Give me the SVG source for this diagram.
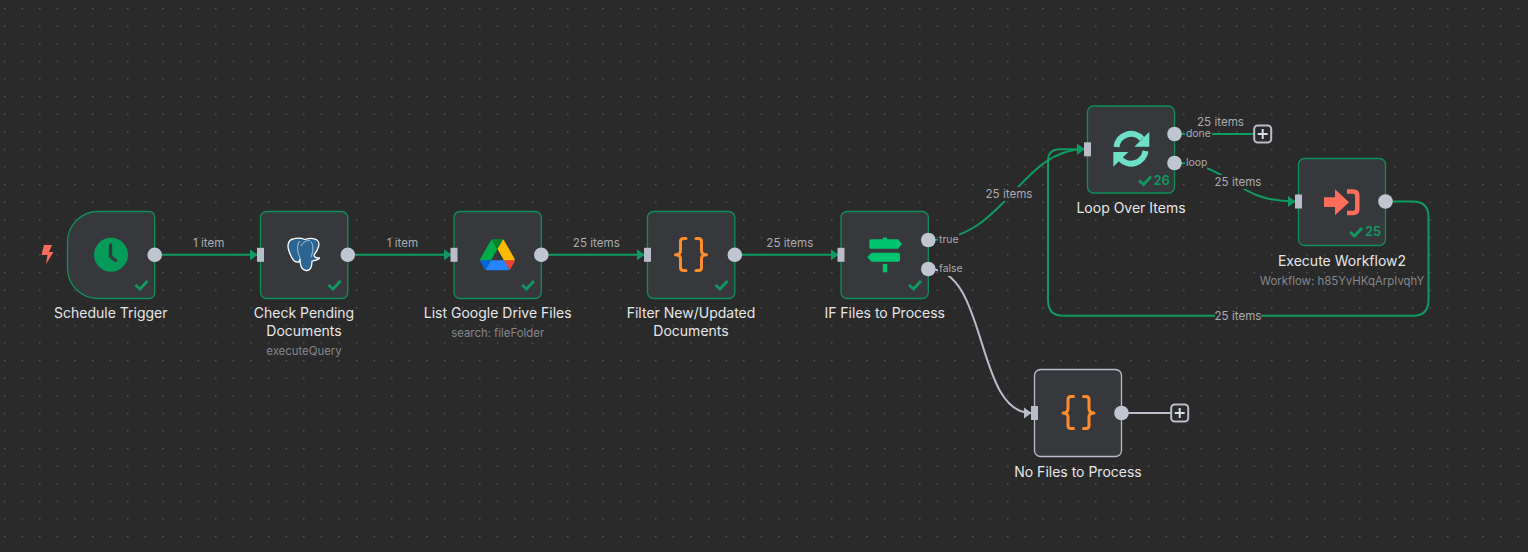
<svg xmlns="http://www.w3.org/2000/svg" width="1528" height="552" viewBox="0 0 1528 552">
<style>
.card{fill:#37383b;stroke:#0e8f5a;stroke-width:1.3}
.card.grey{stroke:#b9bdc9}
.t{font-family:Inter,"Liberation Sans",sans-serif;font-size:14px;fill:#e6e6e8;text-anchor:middle}
.s{font-family:Inter,"Liberation Sans",sans-serif;font-size:11.4px;fill:#85878e;text-anchor:middle}
.e{font-family:Inter,"Liberation Sans",sans-serif;font-size:11.6px;fill:#a9abb2;text-anchor:middle}
.b{font-family:Inter,"Liberation Sans",sans-serif;font-size:10.4px;fill:#a9abb2}
.n{font-family:Inter,"Liberation Sans",sans-serif;font-size:13px;font-weight:600;fill:#0f9a61}
.c{fill:none;stroke:#0f9a61;stroke-width:2}
.w{fill:none;stroke:#b9bdc9;stroke-width:2}
.k{fill:none;stroke:#0f9a61;stroke-width:2.8}
.o{fill:#c0c5d2}
.lb{fill:#2a2a2a}
.br{fill:none;stroke:#ff8c2b;stroke-width:3;stroke-linecap:round;stroke-linejoin:round}
</style>
<defs>
<pattern id="grid" x="4" y="8" width="17.6" height="17.6" patternUnits="userSpaceOnUse"><rect x="0" y="0" width="1.2" height="1.2" fill="#646464"/></pattern>
<marker id="ag" markerWidth="8" markerHeight="12" refX="7" refY="6" orient="auto" markerUnits="userSpaceOnUse"><path d="M0,0.5L7.5,6L0,11.5Z" fill="#0f9a61"/></marker>
<marker id="aw" markerWidth="8" markerHeight="12" refX="7" refY="6" orient="auto" markerUnits="userSpaceOnUse"><path d="M0,0.5L7.5,6L0,11.5Z" fill="#b9bdc9"/></marker>
<g id="plus"><rect x="-8.5" y="-8.5" width="17" height="17" rx="3.5" fill="#2a2a2a" stroke="#b9bdc9" stroke-width="2"/><path d="M-5,0H5M0,-5V5" stroke="#d8dbe3" stroke-width="2"/></g>
</defs>
<rect width="1528" height="552" fill="#2a2a2a"/>
<rect width="1528" height="552" fill="url(#grid)"/>
<g id="connectors">
<path class="c" marker-end="url(#ag)" d="M155,254.8H257"/>
<path class="c" marker-end="url(#ag)" d="M348,254.8H451"/>
<path class="c" marker-end="url(#ag)" d="M541,254.8H644"/>
<path class="c" marker-end="url(#ag)" d="M735,254.8H838"/>
<path class="c" marker-end="url(#ag)" d="M929,240C1005,240 1020,149.3 1084,149.3"/>
<path class="w" marker-end="url(#aw)" d="M929,269C988,269 975,413 1031,413"/>
<path class="c" d="M1175,134H1254"/>
<path class="c" marker-end="url(#ag)" d="M1175,163C1232,163 1232,201.5 1295,201.5"/>
<path class="c" marker-end="url(#ag)" d="M1386,201.5H1413Q1428.5,201.5 1428.5,217V300Q1428.5,315.8 1413,315.8H1063Q1048,315.8 1048,300V161Q1048,149.3 1060,149.3H1084"/>
<path class="w" d="M1122,413H1171"/>
<rect class="lb" x="938" y="233" width="21" height="14"/>
<rect class="lb" x="938" y="262" width="25" height="14"/>
<rect class="lb" x="1185" y="127" width="27" height="13"/>
<rect class="lb" x="1185" y="156" width="22" height="14"/>
<rect class="lb" x="986" y="187" width="46" height="14"/>
<rect class="lb" x="1215" y="175" width="46" height="14"/>
<rect class="lb" x="1215" y="309" width="46" height="14"/>
<text class="e" x="208.7" y="247">1 item</text>
<text class="e" x="402.5" y="247">1 item</text>
<text class="e" x="596.3" y="247">25 items</text>
<text class="e" x="789.8" y="247">25 items</text>
<text class="e" x="1009" y="198">25 items</text>
<text class="e" x="1220.5" y="126">25 items</text>
<text class="e" x="1238" y="186">25 items</text>
<text class="e" x="1238" y="320">25 items</text>
<text class="b" x="939" y="243">true</text>
<text class="b" x="939" y="272">false</text>
<text class="b" x="1186" y="137">done</text>
<text class="b" x="1186" y="166">loop</text>
<use href="#plus" x="1262.7" y="134"/>
<use href="#plus" x="1179.7" y="413"/>
</g>
<g id="schedule-trigger">
<path class="card" d="M98,211.5H148.7Q154.7,211.5 154.7,217.500V292.500Q154.7,298.5 148.7,298.5H98A30.5,30.5 0 0 1 67.5,268V242A30.5,30.5 0 0 1 98,211.5Z"/>
<circle cx="111" cy="254.8" r="17" fill="#059c5a"/>
<path d="M110.5,245V256.500L115.500,260.500" fill="none" stroke="#37383b" stroke-width="3.400" stroke-linecap="round" stroke-linejoin="round"/>
<path d="M44,245H52L49,252H53.500L46,264L47.500,255H41.500Z" fill="#ff6d5a"/>
<polyline class="k" points="135.500,285 140,289 147.500,281"/>
<circle class="o" cx="154.700" cy="254.800" r="7.300"/>
<text class="t" x="110.800" y="318">Schedule Trigger</text>
</g>
<g id="check-pending-documents">
<rect class="card" x="260.500" y="211.500" width="87.300" height="87" rx="6"/>
<path d="M293,239C288,240 287,246 289,251C291,257 294,263 298,262C300,262 300,260 300,259C300,264 301,270 306,270.500C311,271 312,266 312,261C315,260 319,260 319.500,258C316,258 314,257 314,255C318,250 321,243 317,240C313,237.500 308,238.500 305,239.500C301,238 296,238 293,239Z" fill="#2c6592" stroke="#fff" stroke-width="1.300" stroke-linejoin="round"/>
<path d="M299.500,241C296,247 298,253 300,258M301,246C303,242 306,240.500 310,240.500M311,241.500C314,246 313,252 311,257" fill="none" stroke="#dfe8ef" stroke-width="0.700"/>
<polyline class="k" points="328.500,285 333,289 340.500,281"/>
<rect x="257" y="247.800" width="7" height="14" fill="#b9bdc9"/>
<circle class="o" cx="347.800" cy="254.800" r="7.300"/>
<text class="t" x="304" y="318">Check Pending</text>
<text class="t" x="304" y="336">Documents</text>
<text class="s" x="304" y="355">executeQuery</text>
</g>
<g id="list-google-drive-files">
<rect class="card" x="454" y="211.500" width="87.300" height="87" rx="6"/>
<g transform="translate(480,239) scale(.4)">
<path d="m6.6 66.85 3.85 6.65c.8 1.4 1.95 2.5 3.3 3.3l13.75-23.8h-27.5c0 1.55.4 3.1 1.2 4.5z" fill="#0066da"/>
<path d="m43.65 25-13.75-23.8c-1.35.8-2.5 1.9-3.3 3.3l-25.4 44a9.06 9.06 0 0 0 -1.2 4.5h27.5z" fill="#00ac47"/>
<path d="m73.55 76.8c1.35-.8 2.5-1.9 3.3-3.3l1.6-2.75 7.65-13.25c.8-1.4 1.2-2.95 1.2-4.5h-27.502l5.852 11.5z" fill="#ea4335"/>
<path d="m43.65 25 13.75-23.8c-1.35-.8-2.9-1.2-4.5-1.2h-18.5c-1.6 0-3.15.45-4.5 1.2z" fill="#00832d"/>
<path d="m59.8 53h-32.3l-13.75 23.8c1.35.8 2.9 1.2 4.5 1.2h50.8c1.6 0 3.15-.45 4.5-1.2z" fill="#2684fc"/>
<path d="m73.4 26.5-12.7-22c-.8-1.4-1.95-2.5-3.3-3.3l-13.75 23.8 16.15 28h27.45c0-1.55-.4-3.1-1.2-4.5z" fill="#ffba00"/>
</g>
<polyline class="k" points="522,285 526.500,289 534,281"/>
<rect x="450.500" y="247.800" width="7" height="14" fill="#b9bdc9"/>
<circle class="o" cx="541.300" cy="254.800" r="7.300"/>
<text class="t" x="497.700" y="318">List Google Drive Files</text>
<text class="s" x="497.700" y="337">search: fileFolder</text>
</g>
<g id="filter-new-updated-documents">
<rect class="card" x="647.500" y="211.500" width="87.300" height="87" rx="6"/>
<path class="br" d="M686,238.500H683.500Q680.500,238.500 680.500,241.500V250.500Q680.500,254.800 675.500,254.800Q680.500,254.800 680.500,259V267.500Q680.500,270.500 683.500,270.500H686"/>
<path class="br" d="M696,238.500H698.500Q701.500,238.500 701.500,241.500V250.500Q701.500,254.800 706.500,254.800Q701.500,254.800 701.500,259V267.500Q701.500,270.500 698.500,270.500H696"/>
<polyline class="k" points="715.500,285 720,289 727.500,281"/>
<rect x="644" y="247.800" width="7" height="14" fill="#b9bdc9"/>
<circle class="o" cx="734.800" cy="254.800" r="7.300"/>
<text class="t" x="691" y="318">Filter New/Updated</text>
<text class="t" x="691" y="336">Documents</text>
</g>
<g id="if-files-to-process">
<rect class="card" x="841" y="211.500" width="87.300" height="87" rx="6"/>
<path d="M883,237.500H887V239.300H898L902,244L898,248.700H871Q869.300,248.700 869.300,247V241Q869.300,239.300 871,239.300H883Z" fill="#00c56e"/>
<path d="M871.500,252.700H898Q900,252.700 900,254.500V260Q900,261.700 898,261.700H871.500L867.300,257.200Z" fill="#00c56e"/>
<rect x="882.800" y="264" width="4.400" height="8.300" fill="#00c56e"/>
<polyline class="k" points="909,285 913.500,289 921,281"/>
<rect x="837.500" y="247.800" width="7" height="14" fill="#b9bdc9"/>
<circle class="o" cx="928.300" cy="240" r="7.300"/>
<circle class="o" cx="928.300" cy="269" r="7.300"/>
<text class="t" x="884.700" y="318">IF Files to Process</text>
</g>
<g id="loop-over-items">
<rect class="card" x="1087.500" y="106" width="87" height="87" rx="6"/>
<path d="M1116.500,147A14.500,14.500 0 0 1 1142,139" fill="none" stroke="#6ee0c7" stroke-width="6"/>
<path d="M1145.500,151A14.500,14.500 0 0 1 1120.500,159" fill="none" stroke="#6ee0c7" stroke-width="6"/>
<path d="M1149.300,131.700V146.700H1134.300Z" fill="#6ee0c7"/>
<path d="M1113.300,166.700V152H1128.300Z" fill="#6ee0c7"/>
<polyline class="k" points="1139,180.500 1143.500,184.500 1151,176.500"/>
<text class="n" x="1153.500" y="185">26</text>
<rect x="1084" y="142.300" width="7" height="14" fill="#b9bdc9"/>
<circle class="o" cx="1174.500" cy="134" r="7.300"/>
<circle class="o" cx="1174.500" cy="163" r="7.300"/>
<text class="t" x="1131" y="213">Loop Over Items</text>
</g>
<g id="execute-workflow2">
<rect class="card" x="1298.500" y="158.500" width="87" height="87" rx="6"/>
<path d="M1324,197.300H1335V189.300L1349,202.300L1335,215.300V207H1324Z" fill="#ff6d5a"/>
<path d="M1347,191.500H1353Q1357.300,191.500 1357.300,195.500V209Q1357.300,213 1353,213H1347" fill="none" stroke="#ff6d5a" stroke-width="4.500"/>
<polyline class="k" points="1350,232 1354.500,236 1362,228"/>
<text class="n" x="1365" y="236">25</text>
<rect x="1295" y="194.500" width="7" height="14" fill="#b9bdc9"/>
<circle class="o" cx="1385.500" cy="201.500" r="7.300"/>
<text class="t" x="1342" y="266">Execute Workflow2</text>
<text class="s" x="1342" y="285">Workflow: h85YvHKqArpIvqhY</text>
</g>
<g id="no-files-to-process">
<rect class="card grey" x="1034.500" y="369.500" width="87" height="87" rx="6"/>
<path class="br" d="M1073.500,396.500H1071Q1068,396.500 1068,399.500V408.500Q1068,413 1063,413Q1068,413 1068,417V425.500Q1068,428.500 1071,428.500H1073.500"/>
<path class="br" d="M1083.500,396.500H1086Q1089,396.500 1089,399.500V408.500Q1089,413 1094,413Q1089,413 1089,417V425.500Q1089,428.500 1086,428.500H1083.500"/>
<rect x="1031" y="406" width="7" height="14" fill="#b9bdc9"/>
<circle class="o" cx="1121.500" cy="413" r="7.300"/>
<text class="t" x="1078" y="477">No Files to Process</text>
</g>
</svg>
